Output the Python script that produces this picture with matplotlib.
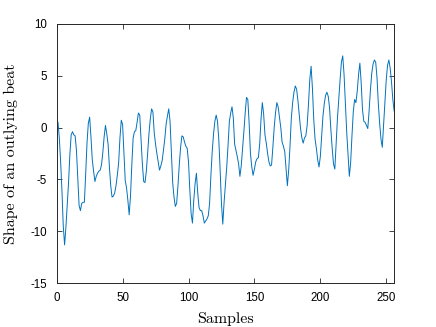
import numpy as np
import matplotlib
matplotlib.use("Agg")
import matplotlib.pyplot as plt

# outlying beat (samples 1..256)
beat = [
    0.5, -1.0, -3.3, -6.1, -9.5, -11.3, -9.6, -7.4, -5.3, -2.6,
    -0.7, -0.4, -0.7, -0.8, -2.2, -4.9, -7.5, -8.0, -7.3, -7.2,
    -7.2, -4.5, -1.5, 0.4, 1.0, -0.9, -3.1, -4.2, -5.2, -4.7,
    -4.4, -4.2, -4.1, -3.6, -2.4, -0.9, 0.2, -0.6, -1.6, -3.8,
    -5.6, -6.7, -6.6, -6.3, -5.6, -4.6, -3.4, -1.0, 0.7, 0.3,
    -2.5, -5.1, -5.8, -7.0, -8.4, -6.6, -3.6, -1.0, -0.4, -0.3,
    0.5, 1.4, 1.2, -1.1, -3.5, -5.2, -5.3, -4.2, -2.5, -0.6,
    0.8, 1.8, 1.5, -0.5, -1.6, -2.5, -3.3, -4.1, -3.7, -3.2,
    -2.2, -1.1, 0.3, 1.1, 1.8, 0.6, -2.3, -5.3, -6.7, -7.6,
    -7.3, -5.6, -3.6, -1.9, -0.8, -0.9, -1.4, -1.8, -2.0, -3.3,
    -6.0, -8.3, -9.2, -7.0, -5.4, -4.4, -6.3, -7.7, -8.0, -8.0,
    -8.5, -9.2, -9.0, -8.8, -8.5, -7.3, -4.6, -2.3, -0.6, 0.6,
    1.2, 0.6, -1.2, -4.1, -7.3, -9.3, -7.2, -5.5, -3.8, -1.7,
    0.6, 1.4, 2.0, 0.9, -1.6, -2.2, -2.8, -3.5, -4.7, -3.7,
    -2.1, -0.4, 1.4, 2.9, 2.7, 0.4, -2.5, -3.8, -4.6, -4.0,
    -3.3, -3.0, -2.9, -1.6, 0.8, 2.4, 1.3, -0.7, -1.5, -2.5,
    -3.3, -3.7, -3.6, -1.9, 0.0, 1.4, 2.4, 2.0, 1.0, 0.0,
    -1.4, -1.8, -2.3, -4.0, -5.6, -4.1, -1.8, 0.9, 2.4, 3.4,
    4.0, 3.7, 2.6, 1.2, -0.1, -1.0, -1.5, -1.0, -0.8, 0.2,
    2.2, 4.6, 5.9, 3.8, 0.8, -1.1, -2.0, -3.1, -3.8, -2.8,
    -0.8, 1.1, 2.3, 3.1, 3.4, 3.0, 1.9, -0.2, -2.0, -3.5,
    -4.0, -1.6, 0.9, 2.8, 4.6, 6.3, 6.9, 5.1, 2.3, -0.4,
    -2.6, -4.7, -3.4, -0.8, 1.5, 2.7, 2.4, 3.5, 5.1, 6.2,
    4.3, 1.7, 0.6, 0.5, 0.2, -0.1, 1.6, 3.6, 5.2, 6.1,
    6.5, 6.3, 4.8, 2.3, 0.4, -1.1, -1.9, 0.3, 2.6, 4.6,
    6.0, 6.5, 5.7, 4.4, 2.7, 1.6,
]
samples = np.arange(1, len(beat) + 1)

xticks = [0, 50, 100, 150, 200, 250]
yticks = [-15, -10, -5, 0, 5, 10]

plt.rcParams['axes.unicode_minus'] = False
plt.rcParams['font.family'] = ['Liberation Sans', 'DejaVu Sans']

fig = plt.figure(figsize=(4.36, 3.27), dpi=100)
ax = fig.add_axes([0.130, 0.1336, 0.774, 0.794])

ax.plot(samples, beat, color='#0072BD', lw=0.7)

ax.set_xlim(0, 256)
ax.set_ylim(-15, 10)
ax.set_xticks(xticks)
ax.set_yticks(yticks)
ax.tick_params(direction='in', length=3.3, width=0.6, labelsize=8.3,
               top=True, right=True, colors='#262626', labelcolor='black')
ax.tick_params(axis='x', pad=6)
ax.tick_params(axis='y', pad=7)
for s in ax.spines.values():
    s.set_linewidth(0.7)
    s.set_color('#262626')

ax.set_xlabel('Samples', fontfamily='cmr10', fontsize=11.5, labelpad=6)
ax.set_ylabel('Shape of an outlying beat', fontfamily='cmr10', fontsize=11.5, labelpad=9)

fig.savefig('out.png', dpi=100)
